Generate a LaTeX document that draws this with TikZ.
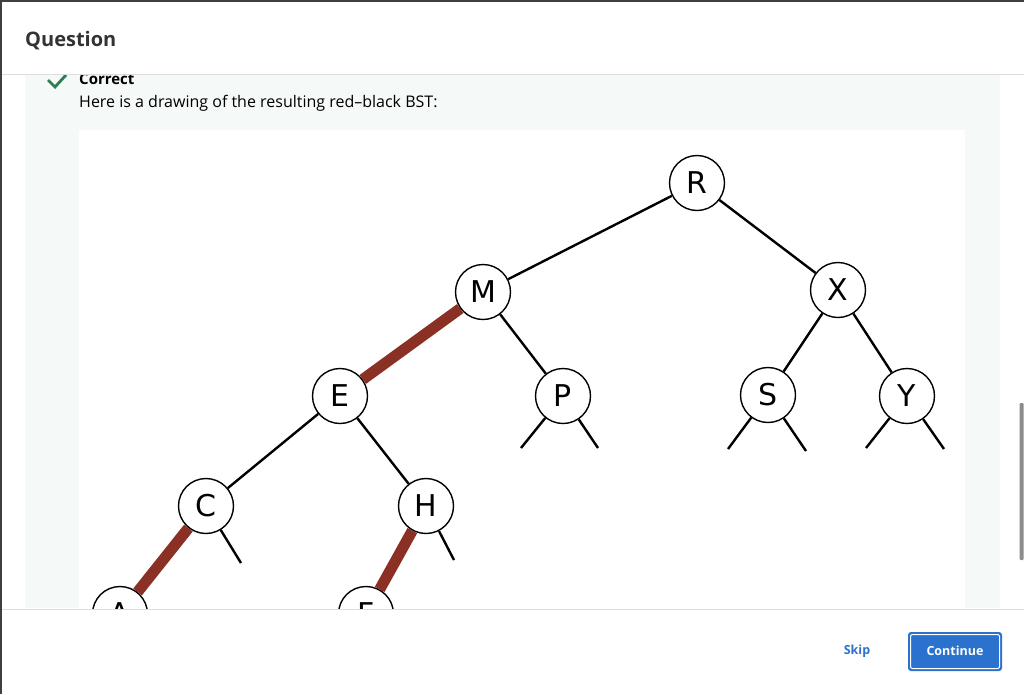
\documentclass[tikz,border=0pt]{standalone}
\usepackage{fontspec}
\setmainfont{Open Sans}
\newfontfamily\treefont{DejaVu Sans}
\definecolor{panelbg}{HTML}{F5F9F8}
\definecolor{rule}{HTML}{DDDDDD}
\definecolor{okgreen}{HTML}{2E7D4F}
\definecolor{linkred}{HTML}{8B3024}
\definecolor{btnblue}{HTML}{2A72CE}
\definecolor{headtext}{HTML}{333333}
\begin{document}
\begin{tikzpicture}[x=1pt,y=-1pt,
  key/.style={circle,draw,line width=1.4pt,fill=white,minimum size=55pt,inner sep=0pt,
    font=\treefont\fontsize{30}{30}\selectfont},
  blacklink/.style={line width=2.4pt},
  redlink/.style={line width=11pt,linkred},
  uitext/.style={anchor=base west,inner sep=0pt}]
  \useasboundingbox (0,0) rectangle (1024,694);
  \fill[white] (0,0) rectangle (1024,694);

  % answer panel and the drawing area
  \fill[panelbg] (25,75) rectangle (1000,608);
  \fill[white] (79,130) rectangle (965,608);
  \draw[okgreen,line width=2.8pt] (48,80) -- (55,87) -- (66,75);
  \node[uitext,font=\bfseries\fontsize{15}{15}\selectfont] (correct) at (79,84) {Correct};
  \node[uitext,font=\fontsize{16}{16}\selectfont] (intro) at (79,107) {Here is a drawing of the resulting red–black BST:};

  % keys
  \node[key] (R) at (697,183) {R};
  \node[key] (M) at (483,292) {M};
  \node[key] (X) at (838,290) {X};
  \node[key] (E) at (340,396) {E};
  \node[key] (P) at (563,396) {P};
  \node[key] (S) at (768,395) {S};
  \node[key] (Y) at (907,396) {Y};
  \node[key] (C) at (206,506) {C};
  \node[key] (H) at (426,506) {H};
  \node[key] (A) at (120,614) {A};
  \node[key] (F) at (366,614) {F};

  % null links
  \coordinate (Pl) at (521,448);
  \coordinate (Pr) at (598,448);
  \coordinate (Sl) at (728,449);
  \coordinate (Sr) at (806,451);
  \coordinate (Yl) at (866,448);
  \coordinate (Yr) at (944,449);
  \coordinate (Cr) at (241,563);
  \coordinate (Hr) at (454,560);

  \draw[blacklink] (R) -- (M);
  \draw[blacklink] (R) -- (X);
  \draw[redlink] (M) -- (E);
  \draw[blacklink] (M) -- (P);
  \draw[blacklink] (X) -- (S);
  \draw[blacklink] (X) -- (Y);
  \draw[blacklink] (E) -- (C);
  \draw[blacklink] (E) -- (H);
  \draw[redlink] (C) -- (A);
  \draw[redlink] (H) -- (F);
  \draw[blacklink] (P) -- (Pl);
  \draw[blacklink] (P) -- (Pr);
  \draw[blacklink] (S) -- (Sl);
  \draw[blacklink] (S) -- (Sr);
  \draw[blacklink] (Y) -- (Yl);
  \draw[blacklink] (Y) -- (Yr);
  \draw[blacklink] (C) -- (Cr);
  \draw[blacklink] (H) -- (Hr);

  % header and footer
  \fill[white] (0,0) rectangle (1024,74);
  \node[uitext,font=\bfseries\fontsize{20}{20}\selectfont,text=headtext] (title) at (25,46) {Question};
  \draw[rule,line width=1pt] (0,74.5) -- (1024,74.5);
  \fill[white] (0,609) rectangle (1024,694);
  \draw[rule,line width=1pt] (0,609) -- (1024,609);
  \node[font=\bfseries\fontsize{12.5}{12.5}\selectfont,text=btnblue] (skip) at (857,651) {Skip};
  \fill[btnblue,rounded corners=3pt] (908,632) rectangle (1002,671);
  \draw[white,line width=1pt,rounded corners=2pt] (910.5,634.5) rectangle (999.5,668.5);
  \node[font=\bfseries\fontsize{12.5}{12.5}\selectfont,text=white] (continue) at (955,651) {Continue};

  % window edges and scrollbar
  \fill[black!75] (0,0) rectangle (1024,2);
  \fill[black!75] (0,0) rectangle (1.5,694);
  \fill[black!45,rounded corners=1pt] (1019.5,403) rectangle (1023.5,560);
\end{tikzpicture}
\end{document}
